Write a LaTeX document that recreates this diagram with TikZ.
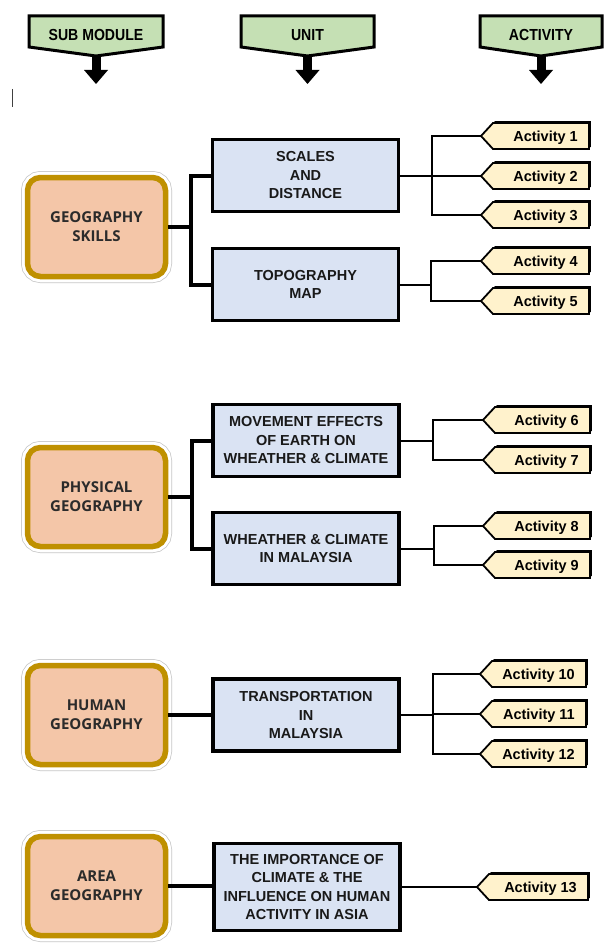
\documentclass[tikz,border=0pt]{standalone}
\usepackage{fontspec}
\setmainfont{Liberation Sans}
\newfontfamily\opensans{Open Sans}
\usetikzlibrary{calc}

\definecolor{hdrgreen}{HTML}{C5E0B4}
\definecolor{unitblue}{HTML}{DAE3F3}
\definecolor{actcream}{HTML}{FFF2CC}
\definecolor{subpeach}{HTML}{F4C6A8}
\definecolor{subgold}{HTML}{BF9000}
\definecolor{inkgray}{HTML}{2B2B2B}

\tikzset{
  submod/.style={rectangle, rounded corners=13pt, fill=subpeach, draw=subgold,
    line width=5.5pt, minimum width=138pt, minimum height=99pt, align=center,
    font=\opensans\bfseries\fontsize{15}{19}\selectfont, text=inkgray,
    preaction={draw=black!22, line width=13pt},
    preaction={draw=white, line width=11.5pt}},
  unitbox/.style={rectangle, fill=unitblue, draw=black, line width=3.2pt,
    minimum width=186pt, minimum height=72pt, align=center,
    font=\bfseries\fontsize{14.5}{18.5}\selectfont, text=black!90},
  actshape/.style={fill=actcream, draw=black, line width=1.8pt, line join=miter},
  actshadow/.style={fill=black},
  acttext/.style={anchor=base east, inner sep=0pt,
    font=\bfseries\fontsize{14.5}{17}\selectfont},
  hdrshape/.style={fill=hdrgreen, draw=black, line width=3pt, line join=miter},
  hdrtext/.style={anchor=base, inner sep=0pt, font=\bfseries\fontsize{16}{18}\selectfont},
  trunk/.style={line width=4pt},
  twig/.style={line width=2pt},
}

% activity tag: name, tip x, centre y, right x, label
\newcommand\actitem[5]{%
  \fill[actshadow] (#2+1.8,#3-1.8) -- (#2+13.8,#3-14.8) -- (#4+1.8,#3-14.8)
    -- (#4+1.8,#3+11.2) -- (#2+13.8,#3+11.2) -- cycle;
  \draw[actshape] (#2,#3) -- (#2+12,#3-13) -- (#4,#3-13) -- (#4,#3+13)
    -- (#2+12,#3+13) -- cycle;
  \coordinate (#1) at (#2,#3);
  \node[acttext] (#1-t) at (#4-11,#3+5.2) {#5};
}

% column header: name, left x, right x, label
\newcommand\hdr[4]{%
  \fill ({(#2+#3)/2-4.5},54) rectangle ({(#2+#3)/2+4.5},71);
  \fill ({(#2+#3)/2-12},70) -- ({(#2+#3)/2+12},70) -- ({(#2+#3)/2},84) -- cycle;
  \draw[hdrshape] (#2,16) -- (#3,16) -- (#3,47) -- ({(#2+#3)/2},56) -- (#2,47) -- cycle;
  \node[hdrtext] (#1) at ({(#2+#3)/2},41) {\scalebox{0.88}[1]{#4}};
}

\begin{document}
\begin{tikzpicture}[x=1pt,y=-1pt]
\useasboundingbox (0,0) rectangle (604,947);
\fill[white] (0,0) rectangle (604,947);

% headers
\hdr{hsub}{29}{163}{SUB MODULE}
\hdr{hunit}{241}{374}{UNIT}
\hdr{hact}{480}{602}{ACTIVITY}

% text cursor mark
\draw[line width=1pt, black!75] (12,89) -- (12,107);

% ---- Geography skills
\node[submod] (s1) at (96.5,227) {GEOGRAPHY\\SKILLS};
\node[unitbox] (u1) at (305.5,175.5) {SCALES\\AND\\DISTANCE};
\node[unitbox] (u2) at (305.5,284.5) {TOPOGRAPHY\\MAP};
\coordinate (j1) at ($(s1.east)+(23,0)$);
\draw[trunk] (s1.east) -- (j1);
\draw[trunk] (u1.west) -| (j1) |- (u2.west);

\actitem{a1}{481}{136}{589}{Activity 1}
\actitem{a2}{481}{176}{589}{Activity 2}
\actitem{a3}{481}{215}{589}{Activity 3}
\actitem{a4}{481}{261}{589}{Activity 4}
\actitem{a5}{481}{301}{589}{Activity 5}
\coordinate (k1) at ($(u1.east)+(32,0)$);
\draw[twig] (u1.east) -- (k1);
\draw[twig] (a1) -| (k1) |- (a3);
\draw[twig] (k1 |- a2) -- (a2);
\coordinate (k2) at ($(u2.east)+(31,0)$);
\draw[twig] (u2.east) -- (k2);
\draw[twig] (a4) -| (k2) |- (a5);

% ---- Physical geography
\node[submod] (s2) at (96.5,497) {PHYSICAL\\GEOGRAPHY};
\node[unitbox] (u3) at (306,440.5) {MOVEMENT EFFECTS\\OF EARTH ON\\WHEATHER \& CLIMATE};
\node[unitbox] (u4) at (306,548.5) {WHEATHER \& CLIMATE\\IN MALAYSIA};
\coordinate (j2) at ($(s2.east)+(24,0)$);
\draw[trunk] (s2.east) -- (j2);
\draw[trunk] (u3.west) -| (j2) |- (u4.west);

\actitem{a6}{483}{420}{590}{Activity 6}
\actitem{a7}{483}{460}{590}{Activity 7}
\actitem{a8}{483}{526}{590}{Activity 8}
\actitem{a9}{483}{565}{590}{Activity 9}
\coordinate (k3) at ($(u3.east)+(32,0)$);
\draw[twig] (u3.east) -- (k3);
\draw[twig] (a6) -| (k3) |- (a7);
\coordinate (k4) at ($(u4.east)+(33,0)$);
\draw[twig] (u4.east) -- (k4);
\draw[twig] (a8) -| (k4) |- (a9);

% ---- Human geography
\node[submod] (s3) at (96.5,715) {HUMAN\\GEOGRAPHY};
\node[unitbox] (u5) at (306,715) {TRANSPORTATION\\IN\\MALAYSIA};
\draw[trunk] (s3.east) -- (u5.west);

\actitem{a10}{480}{674}{586}{Activity 10}
\actitem{a11}{480}{714}{586}{Activity 11}
\actitem{a12}{480}{754}{586}{Activity 12}
\coordinate (k5) at ($(u5.east)+(32,0)$);
\draw[twig] (u5.east) -- (k5);
\draw[twig] (a10) -| (k5) |- (a12);
\draw[twig] (k5 |- a11) -- (a11);

% ---- Area geography
\node[submod] (s4) at (96.5,886) {AREA\\GEOGRAPHY};
\node[unitbox, minimum height=87pt] (u6) at (307,887)
  {THE IMPORTANCE OF\\CLIMATE \& THE\\INFLUENCE ON HUMAN\\ACTIVITY IN ASIA};
\draw[trunk] (s4.east) -- (s4.east -| u6.west);

\actitem{a13}{477}{887}{588}{Activity 13}
\draw[twig] (u6.east) -- (a13);
\end{tikzpicture}
\end{document}
